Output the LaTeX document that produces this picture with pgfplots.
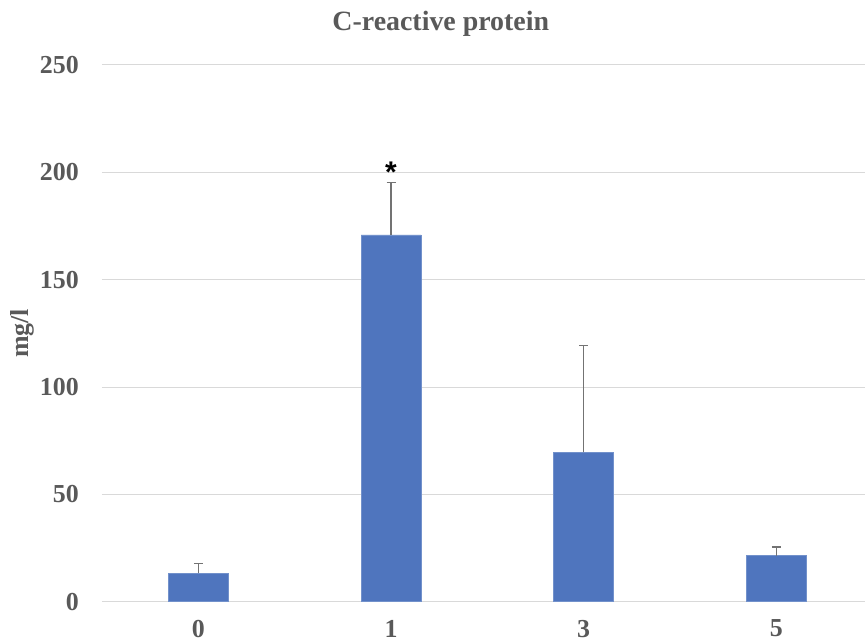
\documentclass[border=0pt]{standalone}
\usepackage{pgfplots}
\pgfplotsset{compat=1.18}
\usepackage{fontspec}
\setmainfont{Liberation Serif}
\newfontfamily\arialfont{Liberation Sans}
\definecolor{barblue}{RGB}{79,117,190}
\definecolor{txtgray}{RGB}{89,89,89}
\definecolor{gridgray}{RGB}{217,217,217}
\definecolor{errgray}{RGB}{115,115,115}
\begin{document}
\begin{tikzpicture}
\begin{axis}[
  scale only axis,
  width=763bp, height=536.7bp,
  xmin=-0.5, xmax=3.46,
  ymin=0, ymax=250,
  ytick={0,50,100,150,200,250},
  xtick={0,1,2,3},
  xticklabels={0,1,3,5},
  axis line style={draw=none},
  major tick length=0pt,
  ymajorgrids,
  grid style={gridgray, line width=1bp},
  /pgf/number format/assume math mode=true,
  ticklabel style={font=\fontsize{26}{30}\selectfont\bfseries, text=txtgray},
  yticklabel style={anchor=east, inner sep=0pt, xshift=-23bp},
  xticklabel style={anchor=north, inner sep=0pt, yshift=-18bp},
  ylabel={mg/l},
  ylabel style={at={(axis description cs:-0.105,0.5)}, anchor=center, font=\fontsize{26}{30}\selectfont\bfseries, text=txtgray},
  title={C-reactive protein},
  title style={at={(axis description cs:0.444,1.053)}, anchor=base, font=\fontsize{28}{32}\selectfont\bfseries, text=txtgray},
  clip=false,
]
\addplot[ybar, bar width=60bp, fill=barblue, draw=barblue!80!white, line width=0.6bp,
  error bars/.cd, y dir=plus, y explicit,
  error bar style={errgray, line width=1.1bp},
  error mark options={rotate=90, mark size=4.5bp, errgray, line width=1.1bp}]
  coordinates {
    (0,13.3) +- (0,4.6)
    (1,170.9) +- (0,24.4)
    (2,69.6) +- (0,49.9)
    (3,21.5) +- (0,4.0)
  };
\node[anchor=south, inner sep=0pt, yshift=0bp, font=\arialfont\fontsize{30}{30}\selectfont\bfseries] at (axis cs:1,195.3) {*};
\end{axis}
\pgfresetboundingbox
\path (current axis.south west) ++(-102bp,-41.3bp) rectangle ++(865bp,643bp);
\end{tikzpicture}
\end{document}
